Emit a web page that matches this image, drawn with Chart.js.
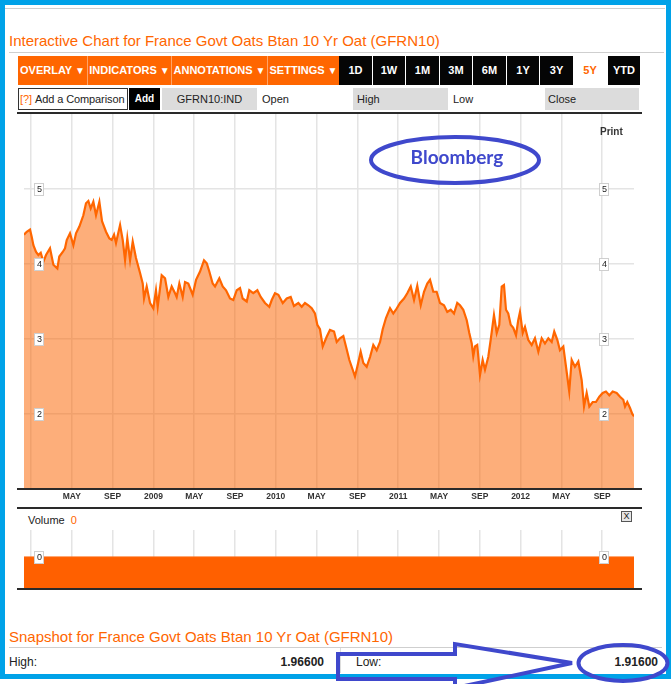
<!DOCTYPE html>
<html>
<head>
<meta charset="utf-8">
<script src="https://cdn.jsdelivr.net/npm/chart.js@4.4.1/dist/chart.umd.min.js"></script>
<style>
  html, body { margin:0; padding:0; background:#fff; width:672px; height:684px; overflow:hidden;
    font-family:"Liberation Sans", Arial, sans-serif; }
  .a { position:absolute; }
  #frame { position:absolute; left:0; top:0; width:661px; height:669px; border:5px solid #00a2e8; }
  .hl { position:absolute; height:1px; background:#cfcfcf; }
  .title { position:absolute; left:9px; font-size:15px; color:#ff6600; line-height:17px; white-space:nowrap; }
  .ob { position:absolute; top:56px; height:29px; background:#ff6600; color:#fff; font-weight:bold; font-size:11px;
        line-height:29px; text-align:center; white-space:nowrap; }
  .ob i { font-style:normal; font-size:10px; vertical-align:0px; }
  .bb { position:absolute; top:56px; height:29px; background:#050505; color:#fff; font-weight:bold; font-size:11px;
        line-height:29px; text-align:center; }
  .sep { position:absolute; top:56px; height:29px; width:1px; background:#ffa366; }
  .r2 { position:absolute; top:88px; height:22px; line-height:22px; font-size:11px; color:#222; white-space:nowrap; }
  .gray { background:#dcdcdc; }
  .dark { position:absolute; left:17px; width:625px; height:2px; background:#2a2a2a; }
</style>
</head>
<body>
<div id="frame"></div>
<div class="hl" style="left:5px; top:8px; width:660px;"></div>

<div class="title" style="top:32px;">Interactive Chart for France Govt Oats Btan 10 Yr Oat (GFRN10)</div>
<div class="hl" style="left:9px; top:52px; width:655px;"></div>

<div class="ob" style="left:18px; width:69px;">OVERLAY <i>▼</i></div>
<div class="ob" style="left:88px; width:83px;">INDICATORS <i>▼</i></div>
<div class="ob" style="left:172px; width:95px;">ANNOTATIONS <i>▼</i></div>
<div class="ob" style="left:268px; width:71px;">SETTINGS <i>▼</i></div>
<div class="sep" style="left:87px;"></div>
<div class="sep" style="left:171px;"></div>
<div class="sep" style="left:267px;"></div>

<div class="bb" style="left:339px; width:33px;">1D</div>
<div class="bb" style="left:373px; width:32px;">1W</div>
<div class="bb" style="left:406px; width:33px;">1M</div>
<div class="bb" style="left:440px; width:32px;">3M</div>
<div class="bb" style="left:473px; width:33px;">6M</div>
<div class="bb" style="left:507px; width:32px;">1Y</div>
<div class="bb" style="left:540px; width:33px;">3Y</div>
<div class="bb" style="left:573px; width:34px; background:#fff; color:#ff6600;">5Y</div>
<div class="bb" style="left:608px; width:32px;">YTD</div>

<div class="r2" style="left:18px; width:108px; height:20px; line-height:20px; border:1px solid #333; background:#fff; letter-spacing:-0.1px;">
  <span style="color:#ff6600; margin-left:1px; margin-right:3px;">[?]</span>Add a Comparison</div>
<div class="r2" style="left:129px; width:31px; background:#000; color:#fff; font-weight:bold; font-size:10px; text-align:center;">Add</div>
<div class="r2 gray" style="left:162px; width:95px; text-align:center;">GFRN10:IND</div>
<div class="r2" style="left:262px;">Open</div>
<div class="r2 gray" style="left:353px; width:91px; padding-left:4px;">High</div>
<div class="r2" style="left:453px;">Low</div>
<div class="r2 gray" style="left:545px; width:91px; padding-left:3px;">Close</div>

<canvas id="main" class="a" style="left:17px; top:114px;" width="625" height="394"></canvas>
<div class="dark" style="top:112px;"></div>
<div class="dark" style="top:488px;"></div>
<div class="dark" style="top:507px;"></div>

<div class="a" style="left:600px; top:126px; font-size:10px; font-weight:bold; color:#333;">Print</div>

<div class="a" style="left:28px; top:514px; font-size:11px; color:#222;">Volume <span style="color:#ff6600; margin-left:3px;">0</span></div>
<div class="a" style="left:621px; top:511px; width:9px; height:9px; border:1px solid #555; background:#e6e6e6; font-size:9px; line-height:9px; text-align:center; color:#222;">X</div>

<canvas id="vol" class="a" style="left:17px; top:530px;" width="625" height="59"></canvas>
<div class="dark" style="top:588px;"></div>

<div class="title" style="top:628px;">Snapshot for France Govt Oats Btan 10 Yr Oat (GFRN10)</div>
<div class="hl" style="left:9px; top:647px; width:653px;"></div>
<div class="a" style="left:340px; top:648px; width:1px; height:25px; background:#ddd;"></div>
<div class="a" style="left:9px; top:655px; font-size:12px; color:#222;">High:</div>
<div class="a" style="left:200px; width:124px; top:655px; font-size:12px; font-weight:bold; color:#222; text-align:right;">1.96600</div>
<div class="a" style="left:356px; top:655px; font-size:12px; color:#222;">Low:</div>
<div class="a" style="left:534px; width:124px; top:655px; font-size:12px; font-weight:bold; color:#222; text-align:right;">1.91600</div>

<svg class="a" style="left:0; top:0; pointer-events:none;" width="672" height="684">
  <ellipse cx="455" cy="160" rx="84" ry="23" fill="none" stroke="#3f48cc" stroke-width="4"/>
  <text x="457" y="164" text-anchor="middle" font-family="Lato, 'Open Sans', sans-serif" font-weight="bold" font-size="19" fill="#3f48cc">Bloomberg</text>
  <polygon points="338,654 455,654 455,644 572,663 455,688 455,679 338,679" fill="none" stroke="#3f48cc" stroke-width="4" stroke-linejoin="miter"/>
  <ellipse cx="623" cy="663" rx="44.5" ry="18" fill="none" stroke="#3f48cc" stroke-width="4"/>
</svg>

<script>
// ---- data (months since Jan 2008, yield %) ----
const months = [
  -0.69,-0.42,-0.10,0.07,0.23,0.49,0.72,0.95,1.21,1.47,1.86,2.19,2.58,2.77,3.11,3.33,3.50,3.82,4.15,4.41,
  4.74,5.13,5.39,5.62,5.85,6.11,6.37,6.70,6.96,7.35,7.68,7.91,8.14,8.33,8.73,8.99,9.22,9.44,9.71,9.97,
  10.29,10.69,10.95,11.08,11.34,11.67,11.99,12.25,12.42,12.81,13.14,13.46,13.79,14.12,14.28,14.54,14.87,15.10,15.42,15.85,
  16.18,16.57,16.96,17.23,17.48,17.81,18.04,18.46,18.79,19.12,19.51,19.83,20.17,20.49,20.75,21.15,21.40,21.79,22.19,22.52,
  22.94,23.36,23.60,23.92,24.25,24.68,25.07,25.46,25.78,26.21,26.54,26.86,27.19,27.52,27.84,28.07,28.33,28.60,28.99,29.31,
  29.71,29.97,30.29,30.62,30.88,31.21,31.54,31.76,31.99,32.32,32.58,32.91,33.24,33.56,33.89,34.22,34.48,34.80,35.20,35.52,
  35.78,36.18,36.57,36.89,37.23,37.55,37.87,38.21,38.53,38.85,39.12,39.44,39.77,40.10,40.49,40.81,41.15,41.47,41.79,42.06,
  42.38,42.72,42.97,43.21,43.36,43.53,43.75,44.02,44.28,44.51,44.83,45.07,45.39,45.66,45.91,46.15,46.37,46.57,46.79,47.03,
  47.28,47.55,47.77,47.94,48.21,48.43,48.75,49.09,49.41,49.74,50.07,50.39,50.72,51.05,51.30,51.60,51.86,52.19,52.52,52.77,
  53.01,53.33,53.66,53.99,54.22,54.48,54.74,55.07,55.39,55.72,56.05,56.37,56.70,57.03,57.42,57.75,58.07,58.24,58.46,58.73,
  58.95,59.12
];
const yields = [
  4.39,4.43,4.46,4.36,4.25,4.16,4.12,4.15,4.03,4.12,4.21,3.99,3.94,4.10,4.16,4.21,4.32,4.41,4.25,4.41,
  4.50,4.65,4.81,4.84,4.74,4.83,4.65,4.83,4.57,4.43,4.34,4.32,4.39,4.28,4.52,4.32,4.05,4.34,4.05,4.30,
  4.08,3.88,3.74,3.54,3.70,3.48,3.41,3.65,3.43,3.85,3.81,3.56,3.70,3.61,3.56,3.74,3.56,3.76,3.74,3.59,
  3.79,3.90,4.05,4.01,3.90,3.74,3.70,3.81,3.70,3.65,3.54,3.52,3.65,3.68,3.54,3.50,3.65,3.61,3.65,3.56,
  3.48,3.43,3.52,3.61,3.59,3.48,3.54,3.56,3.44,3.48,3.43,3.48,3.45,3.41,3.34,3.19,3.13,2.90,3.03,3.12,
  3.10,2.96,3.01,3.04,2.90,2.72,2.59,2.50,2.63,2.83,2.68,2.63,2.76,2.92,2.85,2.96,3.13,3.28,3.41,3.34,
  3.39,3.48,3.54,3.61,3.70,3.52,3.71,3.45,3.63,3.74,3.79,3.63,3.63,3.48,3.45,3.36,3.39,3.34,3.48,3.45,
  3.39,3.25,3.08,2.94,2.77,2.90,2.92,2.52,2.72,2.59,2.76,2.99,3.32,3.08,3.19,3.70,3.72,3.39,3.34,3.19,
  3.15,3.05,3.25,3.36,3.08,3.16,2.99,2.92,3.01,2.83,3.01,2.94,3.01,2.96,3.10,2.99,2.85,2.90,2.56,2.30,
  2.72,2.63,2.70,2.45,2.10,2.28,2.10,2.16,2.16,2.23,2.28,2.30,2.25,2.30,2.28,2.23,2.19,2.10,2.16,2.08,
  2.00,1.97
];
const volumeMonths = [-0.69, 59.12];
const volumeValues = [0, 0];

const tickMonths = [0,4,8,12,16,20,24,28,32,36,40,44,48,52,56];
const tickLabels = ['', 'MAY','SEP','2009','MAY','SEP','2010','MAY','SEP','2011','MAY','SEP','2012','MAY','SEP'];
const yTicks = [2,3,4,5];
const volTicks = [0];

Chart.defaults.font.family = '"Liberation Sans", Arial, sans-serif';

function drawBox(ctx, cx, cy, txt) {
  ctx.save();
  ctx.font = '9px "Liberation Sans", Arial, sans-serif';
  const w = Math.max(9, ctx.measureText(txt).width + 4), h = 12;
  ctx.fillStyle = '#fff';
  ctx.fillRect(Math.round(cx - w/2) + 0.5, Math.round(cy - h/2) + 0.5, w, h);
  ctx.strokeStyle = '#cfcfcf'; ctx.lineWidth = 1;
  ctx.strokeRect(Math.round(cx - w/2) + 0.5, Math.round(cy - h/2) + 0.5, w, h);
  ctx.fillStyle = '#222'; ctx.textAlign = 'center'; ctx.textBaseline = 'middle';
  ctx.fillText(txt, cx + 0.5, cy + 1);
  ctx.restore();
}

const boxLabels = {
  id: 'boxLabels',
  afterDatasetsDraw(chart, args, opts) {
    const ys = chart.scales.y, ca = chart.chartArea, ctx = chart.ctx;
    opts.values.forEach(v => {
      const py = ys.getPixelForValue(v);
      drawBox(ctx, ca.left + 15, py, String(v));
      drawBox(ctx, ca.right - 30, py, String(v));
    });
  }
};

function xScale(showLabels) {
  return {
    type: 'linear', min: -0.69, max: 59.12,
    afterBuildTicks: s => { s.ticks = tickMonths.map(v => ({ value: v })); },
    afterFit: s => { s.height = showLabels ? 19 : 0; },
    ticks: {
      display: showLabels, autoSkip: false, maxRotation: 0, padding: 3, color: '#333',
      font: { size: 8.5, weight: 'bold' },
      callback: (v, i) => tickLabels[i]
    },
    grid: { color: '#e4e4e4', lineWidth: 1.5, drawTicks: false },
    border: { display: false }
  };
}

new Chart(document.getElementById('main'), {
  type: 'line',
  data: {
    datasets: [{
      data: months.map((m, i) => ({ x: m, y: yields[i] })),
      borderColor: '#ff6600', borderWidth: 2.2,
      backgroundColor: 'rgba(252,100,0,0.52)', fill: 'start',
      pointRadius: 0, tension: 0
    }]
  },
  options: {
    responsive: false, animation: false,
    layout: { padding: { left: 7, right: 8, top: 0, bottom: 0 }, autoPadding: false },
    plugins: { legend: { display: false }, tooltip: { enabled: false }, boxLabels: { values: yTicks } },
    scales: {
      x: xScale(true),
      y: {
        min: 1, max: 6,
        afterBuildTicks: s => { s.ticks = yTicks.map(v => ({ value: v })); },
        afterFit: s => { s.width = 0; },
        ticks: { display: false },
        grid: { color: '#e4e4e4', lineWidth: 1.5, drawTicks: false },
        border: { display: false }
      }
    }
  },
  plugins: [boxLabels]
});

new Chart(document.getElementById('vol'), {
  type: 'line',
  data: {
    datasets: [{
      data: volumeMonths.map((m, i) => ({ x: m, y: volumeValues[i] })),
      borderColor: '#ff6a10', borderWidth: 1,
      backgroundColor: '#ff6000', fill: 'start',
      pointRadius: 0
    }]
  },
  options: {
    responsive: false, animation: false,
    layout: { padding: { left: 7, right: 8, top: 0, bottom: 0 }, autoPadding: false },
    plugins: { legend: { display: false }, tooltip: { enabled: false }, boxLabels: { values: volTicks } },
    scales: {
      x: xScale(false),
      y: {
        min: -1, max: 0.84,
        afterFit: s => { s.width = 0; },
        ticks: { display: false },
        grid: { display: false, drawTicks: false },
        border: { display: false }
      }
    }
  },
  plugins: [boxLabels]
});
</script>
</body>
</html>
